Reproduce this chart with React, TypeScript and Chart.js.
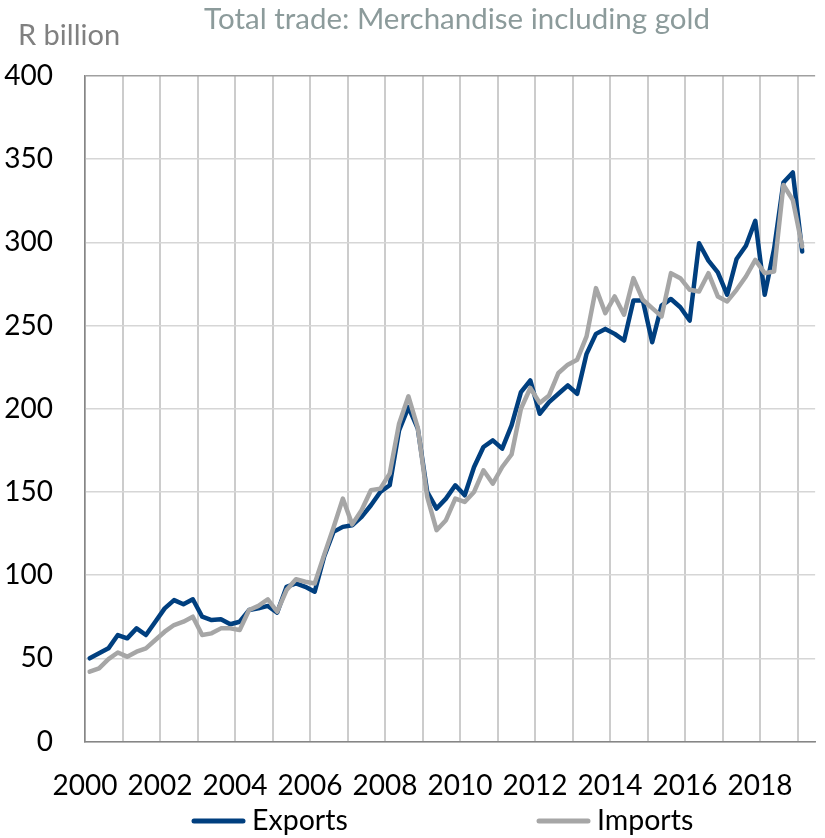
import React, { useEffect, useRef } from "react";
import { Chart, registerables } from "chart.js";

Chart.register(...registerables);

const TITLE = "Total trade: Merchandise including gold";
const UNIT = "R billion";
const START_YEAR = 2000;
const SERIES_NAMES = ["Exports", "Imports"];
const SERIES_COLORS = ["#003f7f", "#a6a6a6"];

// Quarterly values, 2000Q1 .. 2019Q1 (R billion)
const exportsData = [
  50, 53, 56, 64, 62, 68, 64, 72, 80, 85, 82.5, 85.5,
  75, 73, 73.5, 70.5, 72, 79, 80, 81.5, 77.5, 93, 95, 93,
  90, 111, 126, 129, 130, 135, 142, 150, 154, 187, 201, 188,
  150, 140, 146, 154, 148, 165, 177, 181, 176, 190, 210, 217,
  197, 204, 209, 214, 209, 233, 245, 248, 245, 241, 265, 265,
  240, 262, 266, 261, 253, 299.5, 289, 282, 268.5, 290, 298, 313,
  268.5, 296, 336, 342, 294.5,
];
const importsData = [
  42, 44, 49.5, 53.5, 51, 54, 56, 61, 66, 70, 72, 75,
  64, 65, 68, 68, 67, 79, 81.5, 85.5, 78, 91, 97.5, 96,
  95, 112, 128.5, 146, 130.5, 139, 151, 152, 161, 191, 207.5, 188.5,
  147, 127, 133, 146, 144, 150, 163, 155, 165, 172.5, 200, 212.5,
  203.5, 208, 221.5, 226.5, 229.5, 243.5, 272.5, 257.5, 267.5, 256.5, 278.5, 265.5,
  260.5, 255.5, 281.5, 278.5, 271.5, 270.5, 281.5, 267.5, 264.5, 271.5, 279.5, 289.5,
  281.5, 282.5, 334.5, 325.5, 297.5,
];

// quarter positions (mid-quarter) on a year axis
const quarterX = exportsData.map((_, i) => START_YEAR + (i + 0.5) / 4);
const Y_TICKS = [0, 50, 100, 150, 200, 250, 300, 350, 400];
const X_MIN = 2000;
const X_MAX = 2019.47;

const FONT = "Lato";
const LEGEND_X = [192, 537];

const overlayPlugin = {
  id: "overlay",
  afterDraw(chart: any) {
    const ctx = chart.ctx as CanvasRenderingContext2D;
    const area = chart.chartArea;
    ctx.save();
    ctx.font = `29.5px ${FONT}`;
    ctx.fillStyle = "#8c9b9b";
    ctx.textAlign = "center";
    ctx.textBaseline = "alphabetic";
    ctx.fillText(TITLE, (area.left + area.right) / 2 + 7, 29);

    ctx.font = `29px ${FONT}`;
    ctx.fillStyle = "#808080";
    ctx.textAlign = "left";
    ctx.fillText(UNIT, 18, 45);

    chart.data.datasets.forEach((ds: any, k: number) => {
      const x = LEGEND_X[k];
      ctx.beginPath();
      ctx.strokeStyle = ds.borderColor;
      ctx.lineWidth = 5;
      ctx.lineCap = "round";
      ctx.moveTo(x + 2, 821);
      ctx.lineTo(x + 51, 821);
      ctx.stroke();
      ctx.font = `28.5px ${FONT}`;
      ctx.fillStyle = "#000000";
      ctx.textAlign = "left";
      ctx.fillText(ds.label, x + 60, 830);
    });
    ctx.restore();
  },
};

export default function App() {
  const ref = useRef<HTMLCanvasElement | null>(null);
  useEffect(() => {
    if (!ref.current) return;
    const chart = new Chart(ref.current, {
      type: "line",
      data: {
        datasets: [
          {
            label: SERIES_NAMES[0],
            data: exportsData.map((v, i) => ({ x: quarterX[i], y: v })),
            borderColor: SERIES_COLORS[0],
            backgroundColor: SERIES_COLORS[0],
            borderWidth: 4.5,
            pointRadius: 0,
            tension: 0,
            borderJoinStyle: "round",
            borderCapStyle: "round",
            order: 1,
          },
          {
            label: SERIES_NAMES[1],
            data: importsData.map((v, i) => ({ x: quarterX[i], y: v })),
            borderColor: SERIES_COLORS[1],
            backgroundColor: SERIES_COLORS[1],
            borderWidth: 4.5,
            pointRadius: 0,
            tension: 0,
            borderJoinStyle: "round",
            borderCapStyle: "round",
            order: 0,
          },
        ],
      },
      options: {
        responsive: false,
        animation: false,
        layout: { padding: { top: 76, bottom: 0, left: 0, right: 0 } },
        plugins: {
          legend: { display: false },
          title: { display: false },
          tooltip: { enabled: false },
        },
        scales: {
          x: {
            type: "linear",
            min: X_MIN,
            max: X_MAX,
            afterFit: (s: any) => {
              s.height = 96.5;
            },
            grid: {
              color: "#cccccc",
              lineWidth: 2,
              drawTicks: false,
            },
            border: { color: "#868686", width: 1.5 },
            ticks: {
              stepSize: 1,
              includeBounds: false,
              autoSkip: false,
              maxRotation: 0,
              padding: 27.5,
              color: "#000000",
              font: { family: FONT, size: 28 },
              callback: (v: any) => (Number(v) % 2 === 0 ? String(v) : ""),
            },
          },
          y: {
            min: Y_TICKS[0],
            max: Y_TICKS[Y_TICKS.length - 1],
            afterFit: (s: any) => {
              s.width = 85;
            },
            grid: {
              color: (c: any) => (c.tick && c.tick.value === 400 ? "#a0a0a0" : "#d6d6d6"),
              lineWidth: 1.5,
              drawTicks: false,
            },
            border: { color: "#868686", width: 1.5 },
            afterBuildTicks: (s: any) => {
              s.ticks = Y_TICKS.map((v) => ({ value: v }));
            },
            ticks: {
              padding: 32,
              color: "#000000",
              font: { family: FONT, size: 28 },
            },
          },
        },
      },
      plugins: [overlayPlugin],
    } as any);
    return () => chart.destroy();
  }, []);
  return (
    <div style={{ position: "absolute", left: 0, top: 0, width: 825, height: 838, background: "#fff" }}>
      <canvas ref={ref} width={825} height={838} />
    </div>
  );
}
